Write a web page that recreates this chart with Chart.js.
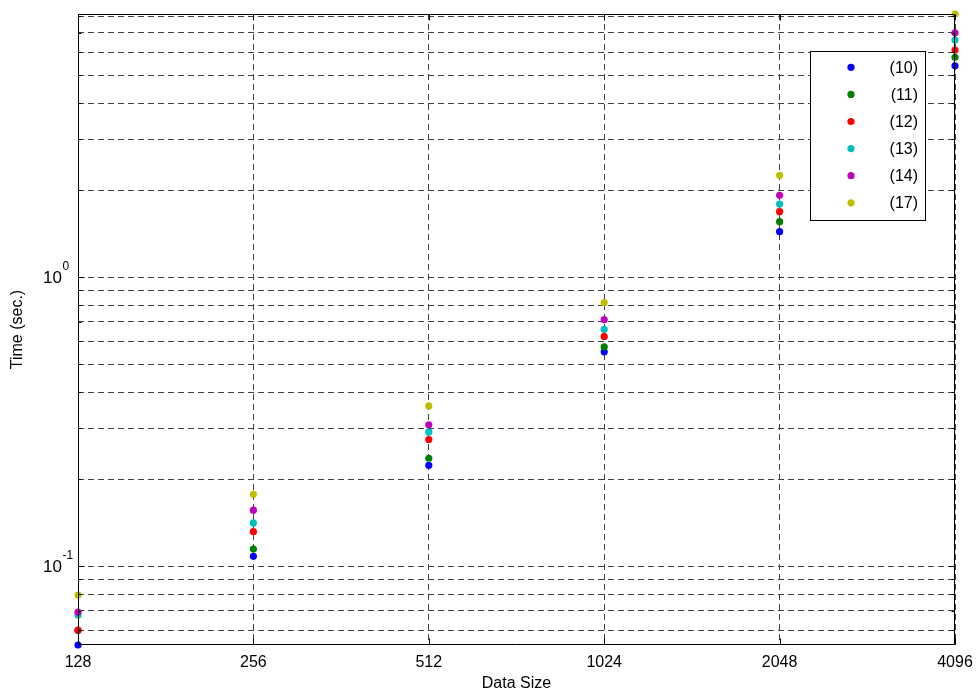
<!DOCTYPE html>
<html>
<head>
<meta charset="utf-8">
<script src="https://cdn.jsdelivr.net/npm/chart.js@4/dist/chart.umd.min.js"></script>
<style>
html,body{margin:0;padding:0;background:#fff;}
#wrap{width:977px;height:693px;}
</style>
</head>
<body>
<div id="wrap"><canvas id="c" width="977" height="693"></canvas></div>
<script>
// ---- data ----
const dataSizes = ['128', '256', '512', '1024', '2048', '4096'];
const seriesLabels = ['(10)', '(11)', '(12)', '(13)', '(14)', '(17)'];
const s10 = [0.0533, 0.108, 0.223, 0.551, 1.435, 5.38];
const s11 = [0.0598, 0.1145, 0.236, 0.573, 1.554, 5.76];
const s12 = [0.0600, 0.1315, 0.274, 0.623, 1.683, 6.10];
const s13 = [0.0677, 0.141, 0.291, 0.659, 1.789, 6.61];
const s14 = [0.0693, 0.156, 0.308, 0.712, 1.917, 7.00];
const s17 = [0.0794, 0.177, 0.358, 0.815, 2.25, 8.13];
const yTickValues = [0.06,0.07,0.08,0.09,0.1,0.2,0.3,0.4,0.5,0.6,0.7,0.8,0.9,1,2,3,4,5,6,7,8];
const yMajorTicks = [0.1, 1];
const yMajorExponents = ['-1', '0'];
const yMin = 0.0533, yMax = 8.13;

const seriesColors = ['#0000ff', '#008000', '#ff0000', '#00bfbf', '#bf00bf', '#bfbf00'];
const allSeries = [s10, s11, s12, s13, s14, s17];
const FONT = '"Liberation Sans", Arial, sans-serif';

const datasets = allSeries.map((s, i) => ({
  label: seriesLabels[i],
  data: s,
  showLine: false,
  pointRadius: 3.6,
  pointHoverRadius: 3.6,
  pointBorderWidth: 0,
  pointBackgroundColor: seriesColors[i],
  pointBorderColor: seriesColors[i],
  borderColor: seriesColors[i],
  backgroundColor: seriesColors[i],
  clip: false,
  order: allSeries.length - i
}));

const decor = {
  id: 'decor',
  afterDraw(chart) {
    const ctx = chart.ctx;
    const a = chart.chartArea;
    const ys = chart.scales.y, xs = chart.scales.x;
    ctx.save();
    ctx.setLineDash([]);
    ctx.strokeStyle = '#000';
    ctx.lineWidth = 1;
    // axis box
    const L = Math.round(a.left) + 0.5, R = Math.round(a.right) - 0.5;
    const T = Math.round(a.top) + 0.5, B = Math.round(a.bottom) - 0.5;
    ctx.beginPath();
    ctx.rect(L, T, R - L, B - T);
    ctx.stroke();
    // inward tick marks
    ctx.beginPath();
    xs.ticks.forEach((t, i) => {
      const x = Math.round(xs.getPixelForTick(i)) + 0.5;
      ctx.moveTo(x, B); ctx.lineTo(x, B - 6);
      ctx.moveTo(x, T); ctx.lineTo(x, T + 6);
    });
    yTickValues.forEach(v => {
      const y = Math.round(ys.getPixelForValue(v)) + 0.5;
      const len = yMajorTicks.includes(v) ? 6 : 3;
      ctx.moveTo(L, y); ctx.lineTo(L + len, y);
      ctx.moveTo(R, y); ctx.lineTo(R - len, y);
    });
    ctx.stroke();
    // y tick labels with superscript exponents
    ctx.fillStyle = '#000';
    ctx.textAlign = 'left';
    ctx.textBaseline = 'alphabetic';
    yMajorTicks.forEach((v, i) => {
      const y = ys.getPixelForValue(v);
      ctx.font = '17px ' + FONT;
      const base = '10';
      const w = ctx.measureText(base).width;
      const x0 = 43;
      ctx.fillText(base, x0, y + 6);
      ctx.font = '12px ' + FONT;
      ctx.fillText(yMajorExponents[i], x0 + w + 0.5, y - 7);
    });
    // legend
    const lx = 810, ly = 51, lw = 115, lh = 169;
    ctx.fillStyle = '#fff';
    ctx.fillRect(lx, ly, lw, lh);
    ctx.strokeStyle = '#000';
    ctx.strokeRect(lx + 0.5, ly + 0.5, lw, lh);
    ctx.font = '16px ' + FONT;
    ctx.textAlign = 'right';
    ctx.textBaseline = 'middle';
    chart.data.datasets.forEach((ds, i) => {
      const ry = 67.3 + i * 27.1;
      ctx.beginPath();
      ctx.fillStyle = ds.pointBackgroundColor;
      ctx.arc(851, ry, 3.6, 0, Math.PI * 2);
      ctx.fill();
      ctx.fillStyle = '#000';
      ctx.fillText(ds.label, 918, ry + 1);
    });
    ctx.restore();
  }
};

new Chart(document.getElementById('c'), {
  type: 'line',
  data: { labels: dataSizes, datasets },
  options: {
    responsive: false,
    animation: false,
    events: [],
    layout: { padding: { left: 0, top: 14, right: 22, bottom: 0 }, autoPadding: false },
    plugins: { legend: { display: false }, tooltip: { enabled: false } },
    scales: {
      x: {
        type: 'category',
        offset: false,
        grid: { color: '#404040', lineWidth: 1, drawTicks: false, drawOnChartArea: true },
        border: { display: false, dash: [6, 4] },
        ticks: { color: '#000', font: { family: FONT, size: 16 }, padding: 8, maxRotation: 0, autoSkip: false },
        title: { display: true, text: 'Data Size', color: '#000', font: { family: FONT, size: 16 }, padding: { top: 0, bottom: 0 } },
        afterFit(scale) { scale.height = 48; scale.paddingLeft = 0; scale.paddingRight = 0; }
      },
      y: {
        type: 'logarithmic',
        min: yMin,
        max: yMax,
        grid: { color: '#404040', lineWidth: 1, drawTicks: false },
        border: { display: false, dash: [6, 4] },
        afterBuildTicks(scale) { scale.ticks = yTickValues.map(v => ({ value: v })); },
        ticks: { display: true, callback: () => '', font: { family: FONT, size: 16 } },
        title: { display: true, text: 'Time (sec.)', color: '#000', font: { family: FONT, size: 16 }, padding: { top: 8, bottom: 0 } },
        afterFit(scale) { scale.width = 78; scale.paddingTop = 0; scale.paddingBottom = 0; }
      }
    }
  },
  plugins: [decor]
});
</script>
</body>
</html>
